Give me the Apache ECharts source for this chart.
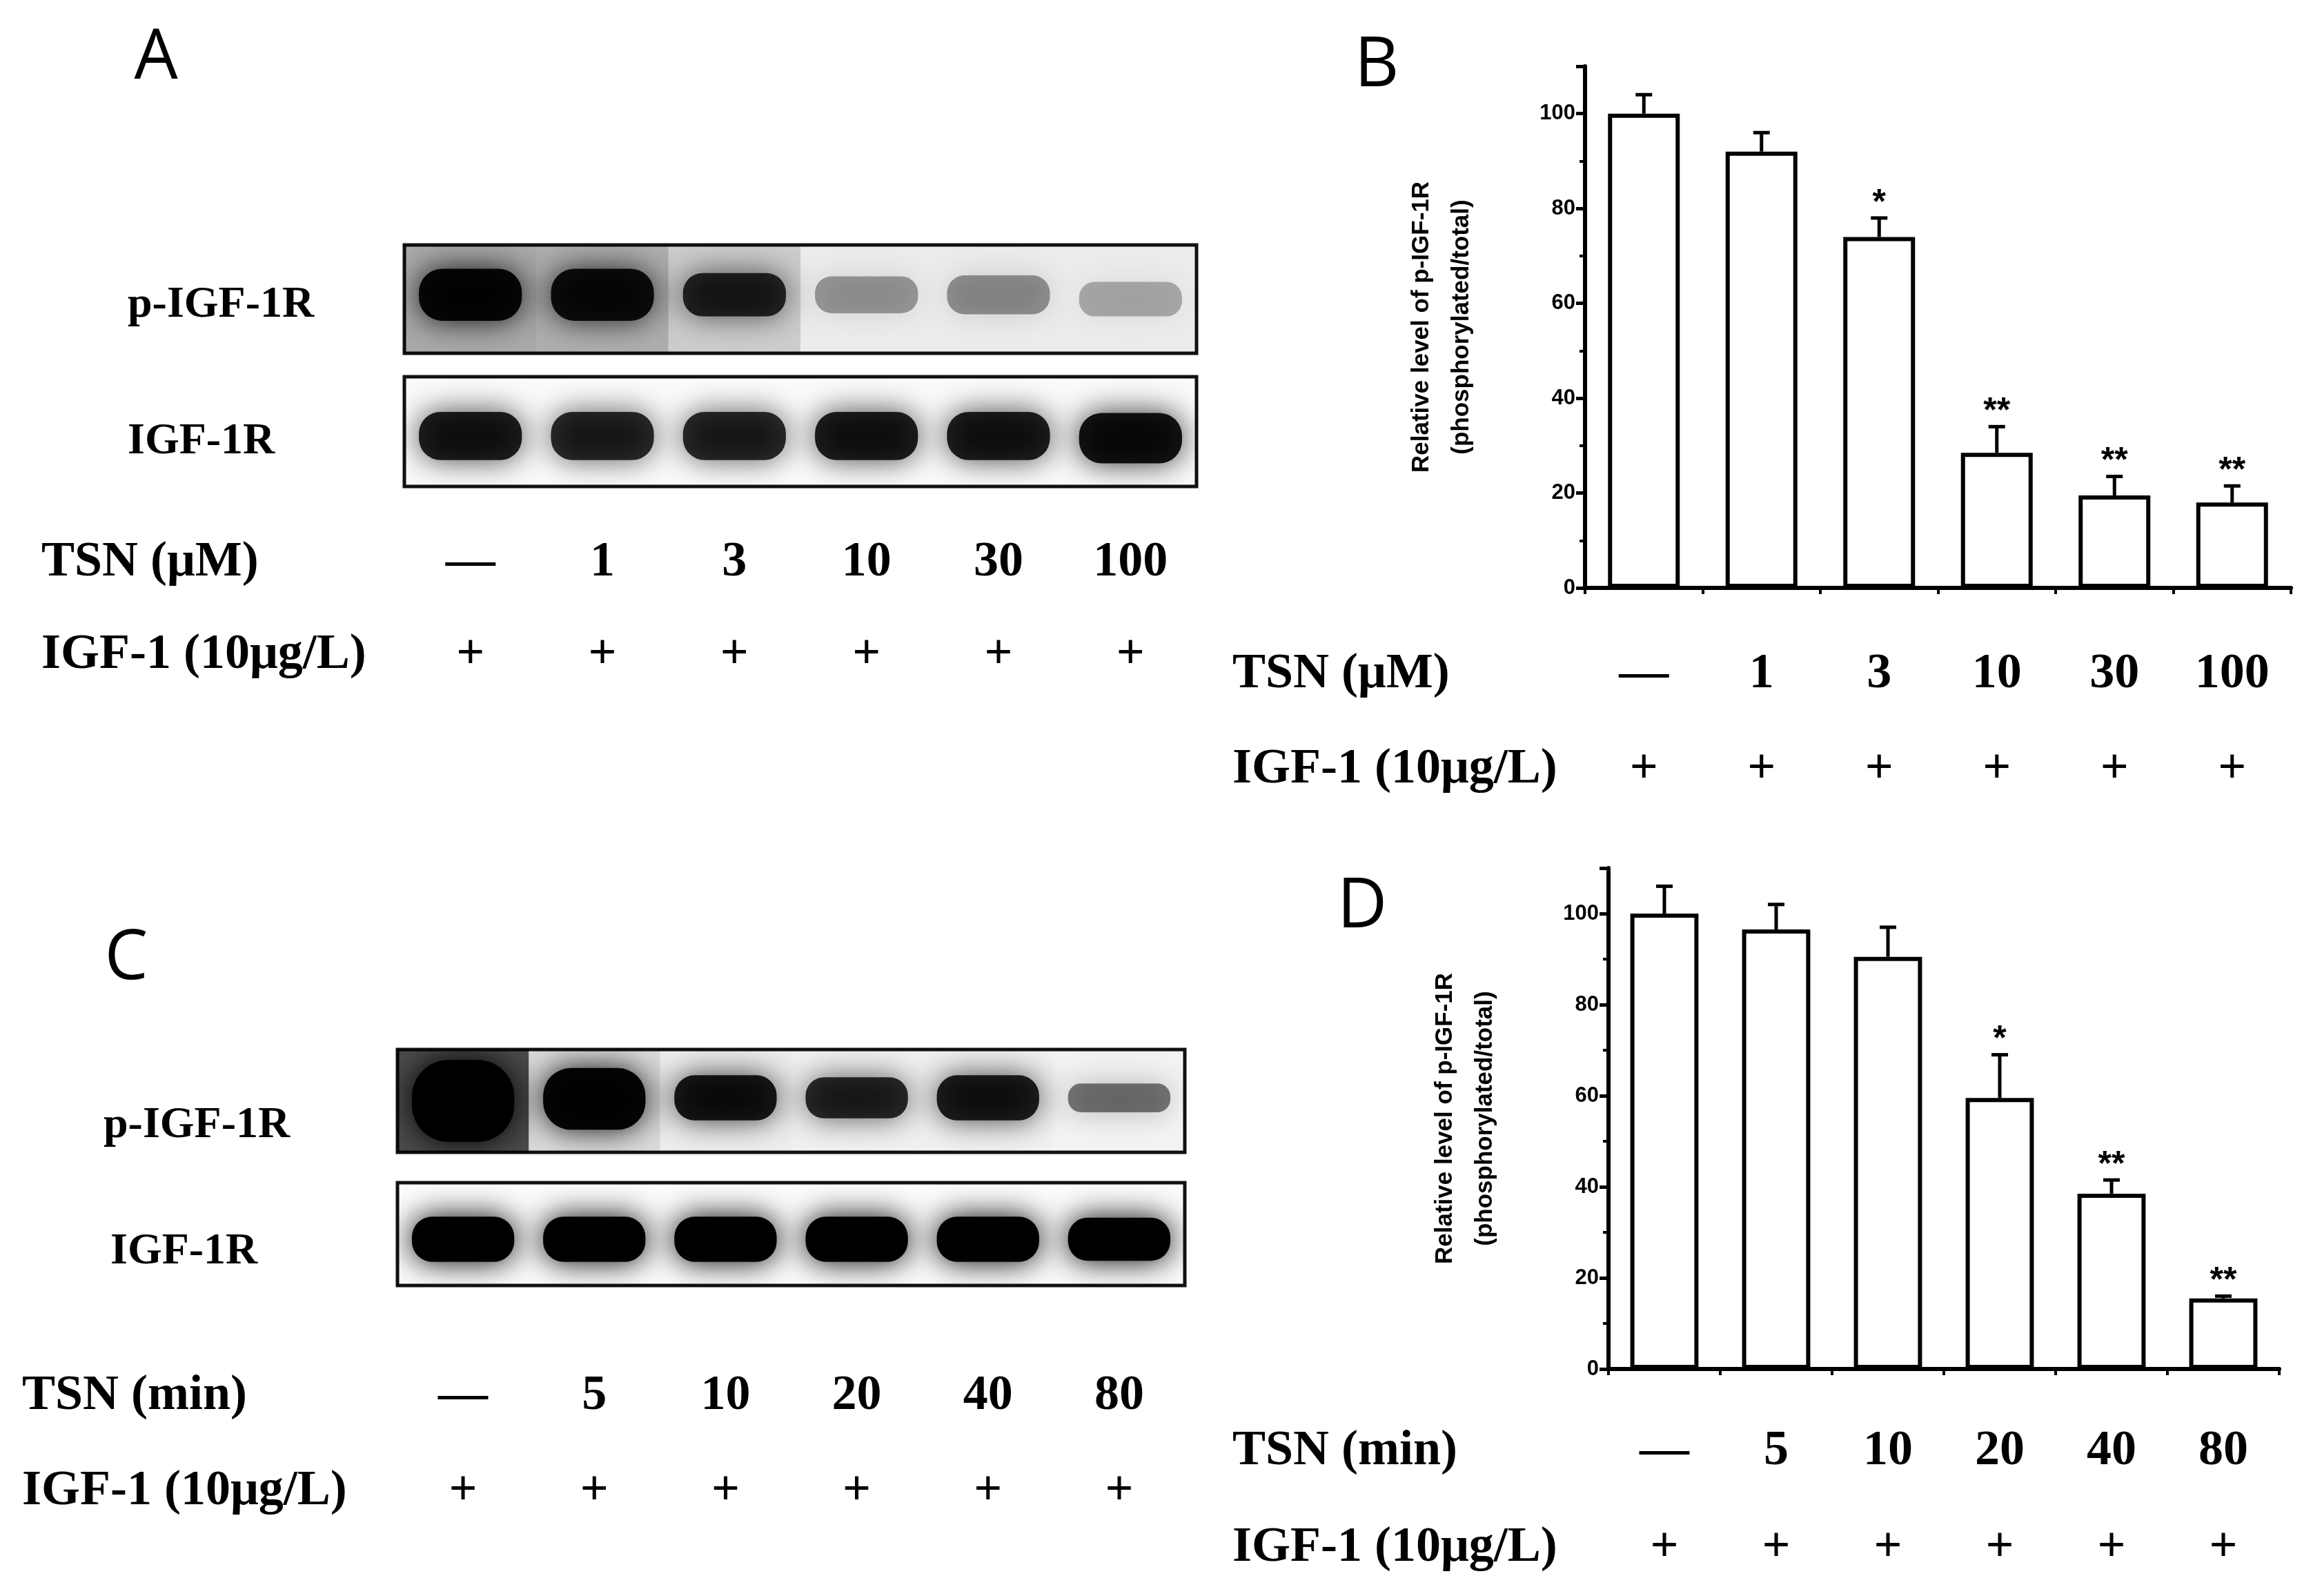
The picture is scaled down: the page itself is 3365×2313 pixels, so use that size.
<!DOCTYPE html>
<html>
<head>
<meta charset="utf-8">
<script src="https://cdn.jsdelivr.net/npm/echarts@6/dist/echarts.min.js"></script>
<style>
  html, body { margin: 0; padding: 0; background: #fff; }
  #main { width: 3365px; height: 2313px; }
</style>
</head>
<body>
<div id="main"></div>
<script>
// lane labels
const doseLabels = ['—', '1', '3', '10', '30', '100'];
const timeLabels = ['—', '5', '10', '20', '40', '80'];
const igfLabels = ['+', '+', '+', '+', '+', '+'];

// panel B: dose response (mean, error)
const doseMean = [100, 92, 74, 28.5, 19.5, 18];
const doseErr = [4, 4, 4, 5.5, 4, 3.5];
const doseStars = ['', '', '*', '**', '**', '**'];

// panel D: time course
const timeMean = [100, 96.5, 90.5, 59.5, 38.5, 15.5];
const timeErr = [6, 5.5, 6.5, 9.5, 3, 0.5];
const timeStars = ['', '', '', '*', '**', '**'];

// blot bands: [lane, centre (0-1), darkness (0-1), half height (0-1)]
const blotAPhospho = [[0, 0.54, 0.95, 0.24], [1, 0.54, 0.9, 0.24], [2, 0.54, 0.8, 0.2], [3, 0.54, 0.35, 0.17], [4, 0.54, 0.38, 0.18], [5, 0.5, 0.28, 0.16]];
const blotASmear = [0.32, 0.3, 0.18, 0.06, 0.06, 0.06];
const blotATotal = [[0, 0.46, 0.85, 0.22], [1, 0.46, 0.8, 0.22], [2, 0.46, 0.8, 0.22], [3, 0.46, 0.85, 0.22], [4, 0.46, 0.85, 0.22], [5, 0.44, 0.9, 0.23]];
const blotCPhospho = [[0, 0.5, 1, 0.4], [1, 0.52, 0.97, 0.3], [2, 0.53, 0.88, 0.22], [3, 0.53, 0.8, 0.2], [4, 0.53, 0.85, 0.22], [5, 0.53, 0.5, 0.14]];
const blotCSmear = [0.7, 0.12, 0.05, 0.04, 0.04, 0.03];
const blotCTotal = [[0, 0.45, 1, 0.22], [1, 0.45, 1, 0.22], [2, 0.45, 1, 0.22], [3, 0.45, 1, 0.22], [4, 0.45, 1, 0.22], [5, 0.45, 1, 0.21]];

const serif = '"Liberation Serif", "DejaVu Serif", serif';
const sans = '"Liberation Sans", Arial, sans-serif';

const chart = echarts.init(document.getElementById('main'));

const blotGrid = (left, top, right, bottom) => ({
  left, top, right, bottom,
  show: true, backgroundColor: '#fbfbfb', borderColor: '#111', borderWidth: 5,
});

const barGrid = (left, top, right, bottom) => ({ left, top, right, bottom });

const laneAxis = (gridIndex, labels, margin, lineHeight) => ({
  type: 'category', gridIndex, data: labels ? labels.map((l, i) => i) : [0, 1, 2, 3, 4, 5],
  axisLine: { show: false }, axisTick: { show: false },
  axisLabel: labels ? {
    show: true, interval: 0, margin,
    formatter: (v) => '{a|' + labels[v] + '}\n{b|' + igfLabels[v] + '}',
    rich: {
      a: { fontFamily: serif, fontWeight: 'bold', fontSize: 72, lineHeight, color: '#000' },
      b: { fontFamily: serif, fontWeight: 'bold', fontSize: 72, lineHeight, color: '#000' },
    },
  } : { show: false },
});

const hiddenY = (gridIndex) => ({
  type: 'value', gridIndex, min: 0, max: 1, show: false,
});

const bandSeries = (idx, bands, smear) => ({
  type: 'custom', xAxisIndex: idx, yAxisIndex: idx, data: bands,
  clip: true,
  renderItem: (params, api) => {
    const lane = api.value(0);
    const c = api.coord([lane, api.value(1)]);
    const h = api.size([0, api.value(3)])[1];
    const full = api.size([1, 1]);
    const w = full[0] * 0.78;
    const d = api.value(2);
    const children = [];
    if (smear) {
      const s = smear[params.dataIndex];
      const top = api.coord([lane, 1]);
      children.push({
        type: 'rect',
        shape: { x: top[0] - full[0] / 2, y: top[1], width: full[0], height: full[1] },
        style: { fill: 'rgba(0,0,0,' + s + ')' },
      });
    }
    children.push({
      type: 'rect',
      shape: { x: c[0] - w / 2, y: c[1] - h, width: w, height: h * 2, r: h * 0.9 },
      style: { fill: 'rgba(0,0,0,' + d + ')', shadowBlur: 45, shadowColor: 'rgba(0,0,0,' + d + ')' },
    });
    return { type: 'group', children };
  },
});

const barX = (gridIndex, labels, margin, lineHeight) => ({
  type: 'category', gridIndex, data: [0, 1, 2, 3, 4, 5],
  axisLine: { lineStyle: { color: '#000', width: 6 } },
  axisTick: { alignWithLabel: true, length: 16, lineStyle: { width: 5, color: '#000' } },
  axisLabel: {
    interval: 0, margin,
    formatter: (v) => '{a|' + labels[v] + '}\n{b|' + igfLabels[v] + '}',
    rich: {
      a: { fontFamily: serif, fontWeight: 'bold', fontSize: 72, lineHeight, color: '#000' },
      b: { fontFamily: serif, fontWeight: 'bold', fontSize: 72, lineHeight, color: '#000' },
    },
  },
});

// boundary ticks between bars
const boundaryX = (gridIndex) => ({
  type: 'value', gridIndex, min: 0, max: 6, interval: 1, position: 'bottom',
  axisLine: { show: false }, splitLine: { show: false },
  axisTick: { show: true, length: 9, lineStyle: { width: 4, color: '#000' } },
  axisLabel: { show: false },
});

const barY = (gridIndex) => ({
  type: 'value', gridIndex, min: 0, max: 110, interval: 20,
  name: 'Relative level of p-IGF-1R\n(phosphorylated/total)',
  nameLocation: 'middle', nameGap: 150, nameRotate: 90,
  nameTextStyle: { fontFamily: sans, fontWeight: 'bold', fontSize: 35, lineHeight: 58, color: '#000' },
  axisLine: { show: true, lineStyle: { color: '#000', width: 6 } },
  axisTick: { show: true, length: 13, lineStyle: { width: 5, color: '#000' } },
  minorTick: { show: true, splitNumber: 2, length: 8, lineStyle: { width: 4, color: '#000' } },
  splitLine: { show: false },
  axisLabel: { fontFamily: sans, fontWeight: 'bold', fontSize: 31, color: '#000', margin: 14, showMaxLabel: false },
});

const barSeries = (idx, mean) => ({
  type: 'bar', xAxisIndex: idx, yAxisIndex: idx, data: mean, barWidth: '61%',
  itemStyle: { color: '#fff', borderColor: '#000', borderWidth: 6 },
  z: 3,
});

const errSeries = (idx, mean, err, stars) => ({
  type: 'custom', xAxisIndex: idx, yAxisIndex: idx,
  data: mean.map((m, i) => [i, m, m + err[i]]),
  z: 2,
  renderItem: (params, api) => {
    const base = api.coord([api.value(0), api.value(1)]);
    const top = api.coord([api.value(0), api.value(2)]);
    const star = stars[params.dataIndex];
    const children = [
      { type: 'line', shape: { x1: base[0], y1: base[1], x2: top[0], y2: top[1] }, style: { stroke: '#000', lineWidth: 5 } },
      { type: 'line', shape: { x1: top[0] - 12, y1: top[1], x2: top[0] + 12, y2: top[1] }, style: { stroke: '#000', lineWidth: 5 } },
    ];
    if (star) {
      children.push({
        type: 'text', x: top[0], y: top[1] + 4,
        style: { text: star, fontFamily: sans, fontWeight: 'bold', fontSize: 50, fill: '#000', align: 'center', verticalAlign: 'bottom' },
      });
    }
    return { type: 'group', children };
  },
});

const txt = (x, y, text, size, family, align) => ({
  type: 'text', x, y,
  style: { text, fontFamily: family || serif, fontWeight: family === sans ? 'normal' : 'bold', fontSize: size, fill: '#000', align: align || 'left', verticalAlign: 'middle' },
});

const letter = (x, y, text) => ({
  type: 'text', x, y,
  style: { text, fontFamily: '"Open Sans", sans-serif', fontSize: 100, fill: '#000', align: 'center', verticalAlign: 'middle' },
});

const option = {
  backgroundColor: '#fff',
  animation: false,
  grid: [
    blotGrid(586, 355, 3365 - 1734, 2313 - 512),
    blotGrid(586, 546, 3365 - 1734, 2313 - 705),
    blotGrid(576, 1521, 3365 - 1717, 2313 - 1670),
    blotGrid(576, 1714, 3365 - 1717, 2313 - 1863),
    barGrid(2297, 96, 3365 - 3320, 2313 - 852),
    barGrid(2331, 1258, 3365 - 3303, 2313 - 1984),
  ],
  xAxis: [
    laneAxis(0, null),
    laneAxis(1, doseLabels, 43, 134),
    laneAxis(2, null),
    laneAxis(3, timeLabels, 91, 138),
    barX(4, doseLabels, 56, 138),
    barX(5, timeLabels, 49, 140),
    boundaryX(4),
    boundaryX(5),
  ],
  yAxis: [hiddenY(0), hiddenY(1), hiddenY(2), hiddenY(3), barY(4), barY(5)],
  series: [
    bandSeries(0, blotAPhospho, blotASmear),
    bandSeries(1, blotATotal, null),
    bandSeries(2, blotCPhospho, blotCSmear),
    bandSeries(3, blotCTotal, null),
    barSeries(4, doseMean),
    errSeries(4, doseMean, doseErr, doseStars),
    barSeries(5, timeMean),
    errSeries(5, timeMean, timeErr, timeStars),
  ],
  graphic: [
    letter(226, 86, 'A'),
    letter(1995, 97, 'B'),
    letter(183, 1391, 'C'),
    letter(1974, 1316, 'D'),
    txt(185, 442, 'p-IGF-1R', 64),
    txt(185, 640, 'IGF-1R', 64),
    txt(60, 815, 'TSN (μM)', 72),
    txt(60, 949, 'IGF-1 (10μg/L)', 72),
    txt(1786, 977, 'TSN (μM)', 72),
    txt(1786, 1115, 'IGF-1 (10μg/L)', 72),
    txt(150, 1631, 'p-IGF-1R', 64),
    txt(160, 1814, 'IGF-1R', 64),
    txt(32, 2023, 'TSN (min)', 72),
    txt(32, 2161, 'IGF-1 (10μg/L)', 72),
    txt(1786, 2103, 'TSN (min)', 72),
    txt(1786, 2243, 'IGF-1 (10μg/L)', 72),
  ],
};

chart.setOption(option);
</script>
</body>
</html>
